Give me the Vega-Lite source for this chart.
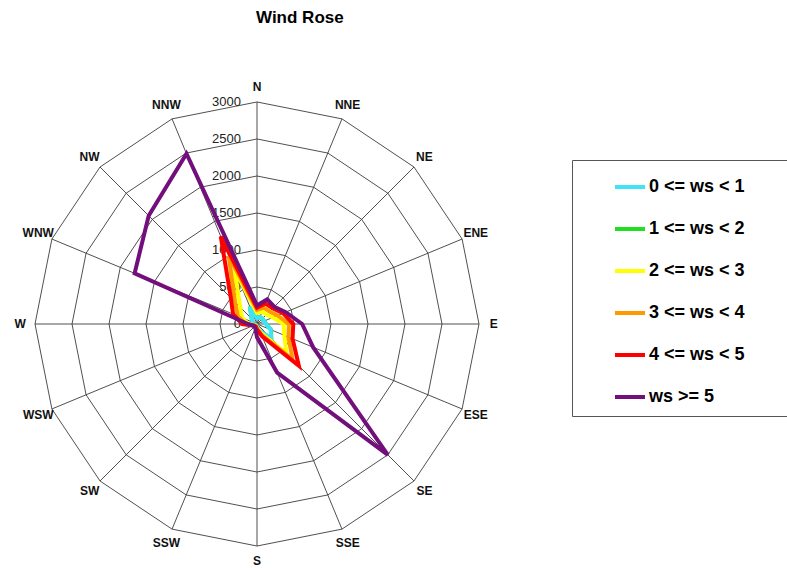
{
  "$schema": "https://vega.github.io/schema/vega-lite/v6.json",
  "width": 787,
  "height": 568,
  "autosize": "none",
  "padding": 0,
  "background": "white",
  "config": {"view": {"stroke": null}},
  "title": {"text": "Wind Rose", "anchor": "start", "frame": "group", "dx": 256, "offset": 0, "dy": 40, "baseline": "alphabetic", "fontSize": 17, "font": "Liberation Sans", "fontWeight": "bold", "color": "#000000"},
  "datasets": {
    "dirs": [
      {"dir": "N", "k": 0}, {"dir": "NNE", "k": 1}, {"dir": "NE", "k": 2}, {"dir": "ENE", "k": 3},
      {"dir": "E", "k": 4}, {"dir": "ESE", "k": 5}, {"dir": "SE", "k": 6}, {"dir": "SSE", "k": 7},
      {"dir": "S", "k": 8}, {"dir": "SSW", "k": 9}, {"dir": "SW", "k": 10}, {"dir": "WSW", "k": 11},
      {"dir": "W", "k": 12}, {"dir": "WNW", "k": 13}, {"dir": "NW", "k": 14}, {"dir": "NNW", "k": 15}
    ],
    "rings": [
      {"ring": 500, "k": [0,1,2,3,4,5,6,7,8,9,10,11,12,13,14,15]},
      {"ring": 1000, "k": [0,1,2,3,4,5,6,7,8,9,10,11,12,13,14,15]},
      {"ring": 1500, "k": [0,1,2,3,4,5,6,7,8,9,10,11,12,13,14,15]},
      {"ring": 2000, "k": [0,1,2,3,4,5,6,7,8,9,10,11,12,13,14,15]},
      {"ring": 2500, "k": [0,1,2,3,4,5,6,7,8,9,10,11,12,13,14,15]},
      {"ring": 3000, "k": [0,1,2,3,4,5,6,7,8,9,10,11,12,13,14,15]}
    ],
    "ticks": [{"t": 0}, {"t": 500}, {"t": 1000}, {"t": 1500}, {"t": 2000}, {"t": 2500}, {"t": 3000}],
    "wind": [
      {"dir": "N", "k": 0, "0 <= ws < 1": 80, "1 <= ws < 2": 84, "2 <= ws < 3": 150, "3 <= ws < 4": 190, "4 <= ws < 5": 220, "ws >= 5": 250},
      {"dir": "NNE", "k": 1, "0 <= ws < 1": 100, "1 <= ws < 2": 104, "2 <= ws < 3": 180, "3 <= ws < 4": 240, "4 <= ws < 5": 300, "ws >= 5": 360},
      {"dir": "NE", "k": 2, "0 <= ws < 1": 100, "1 <= ws < 2": 104, "2 <= ws < 3": 180, "3 <= ws < 4": 240, "4 <= ws < 5": 300, "ws >= 5": 330},
      {"dir": "ENE", "k": 3, "0 <= ws < 1": 100, "1 <= ws < 2": 104, "2 <= ws < 3": 230, "3 <= ws < 4": 300, "4 <= ws < 5": 380, "ws >= 5": 420},
      {"dir": "E", "k": 4, "0 <= ws < 1": 120, "1 <= ws < 2": 124, "2 <= ws < 3": 360, "3 <= ws < 4": 430, "4 <= ws < 5": 490, "ws >= 5": 610},
      {"dir": "ESE", "k": 5, "0 <= ws < 1": 200, "1 <= ws < 2": 204, "2 <= ws < 3": 400, "3 <= ws < 4": 460, "4 <= ws < 5": 520, "ws >= 5": 820},
      {"dir": "SE", "k": 6, "0 <= ws < 1": 270, "1 <= ws < 2": 274, "2 <= ws < 3": 560, "3 <= ws < 4": 680, "4 <= ws < 5": 800, "ws >= 5": 2500},
      {"dir": "SSE", "k": 7, "0 <= ws < 1": 100, "1 <= ws < 2": 104, "2 <= ws < 3": 130, "3 <= ws < 4": 160, "4 <= ws < 5": 180, "ws >= 5": 710},
      {"dir": "S", "k": 8, "0 <= ws < 1": 40, "1 <= ws < 2": 42, "2 <= ws < 3": 55, "3 <= ws < 4": 65, "4 <= ws < 5": 75, "ws >= 5": 180},
      {"dir": "SSW", "k": 9, "0 <= ws < 1": 20, "1 <= ws < 2": 22, "2 <= ws < 3": 30, "3 <= ws < 4": 35, "4 <= ws < 5": 40, "ws >= 5": 60},
      {"dir": "SW", "k": 10, "0 <= ws < 1": 20, "1 <= ws < 2": 22, "2 <= ws < 3": 30, "3 <= ws < 4": 35, "4 <= ws < 5": 40, "ws >= 5": 50},
      {"dir": "WSW", "k": 11, "0 <= ws < 1": 20, "1 <= ws < 2": 22, "2 <= ws < 3": 40, "3 <= ws < 4": 45, "4 <= ws < 5": 50, "ws >= 5": 60},
      {"dir": "W", "k": 12, "0 <= ws < 1": 40, "1 <= ws < 2": 42, "2 <= ws < 3": 120, "3 <= ws < 4": 160, "4 <= ws < 5": 200, "ws >= 5": 120},
      {"dir": "WNW", "k": 13, "0 <= ws < 1": 60, "1 <= ws < 2": 63, "2 <= ws < 3": 220, "3 <= ws < 4": 280, "4 <= ws < 5": 350, "ws >= 5": 1790},
      {"dir": "NW", "k": 14, "0 <= ws < 1": 100, "1 <= ws < 2": 104, "2 <= ws < 3": 320, "3 <= ws < 4": 420, "4 <= ws < 5": 500, "ws >= 5": 2070},
      {"dir": "NNW", "k": 15, "0 <= ws < 1": 250, "1 <= ws < 2": 255, "2 <= ws < 3": 800, "3 <= ws < 4": 1000, "4 <= ws < 5": 1280, "ws >= 5": 2490}
    ]
  },
  "layer": [
    {
      "data": {"name": "rings"},
      "transform": [
        {"flatten": ["k"]},
        {"calculate": "datum.ring * sin(datum.k * PI / 8)", "as": "px"},
        {"calculate": "datum.ring * cos(datum.k * PI / 8)", "as": "py"}
      ],
      "mark": {"type": "line", "interpolate": "linear-closed", "stroke": "#3c3c3c", "strokeWidth": 0.9},
      "encoding": {
        "x": {"field": "px", "type": "quantitative", "scale": {"domain": [-3473, 7162], "nice": false, "zero": false}, "axis": null},
        "y": {"field": "py", "type": "quantitative", "scale": {"domain": [-3297, 4378], "nice": false, "zero": false}, "axis": null},
        "detail": {"field": "ring", "type": "nominal"},
        "order": {"field": "k", "type": "quantitative"}
      }
    },
    {
      "data": {"name": "dirs"},
      "transform": [
        {"calculate": "3000 * sin(datum.k * PI / 8)", "as": "px"},
        {"calculate": "3000 * cos(datum.k * PI / 8)", "as": "py"}
      ],
      "mark": {"type": "rule", "stroke": "#3c3c3c", "strokeWidth": 0.9},
      "encoding": {
        "x": {"field": "px", "type": "quantitative"},
        "y": {"field": "py", "type": "quantitative"},
        "x2": {"datum": 0},
        "y2": {"datum": 0}
      }
    },
    {
      "data": {"name": "dirs"},
      "transform": [
        {"calculate": "3200 * sin(datum.k * PI / 8)", "as": "px"},
        {"calculate": "3200 * cos(datum.k * PI / 8)", "as": "py"}
      ],
      "mark": {"type": "text", "font": "Liberation Sans", "fontWeight": "bold", "fontSize": 12, "align": "center", "baseline": "middle", "color": "#111111"},
      "encoding": {
        "x": {"field": "px", "type": "quantitative"},
        "y": {"field": "py", "type": "quantitative"},
        "text": {"field": "dir", "type": "nominal"}
      }
    },
    {
      "data": {"name": "ticks"},
      "transform": [
        {"calculate": "0", "as": "px"}
      ],
      "mark": {"type": "text", "font": "Liberation Sans", "fontSize": 13, "align": "right", "baseline": "middle", "dx": -16, "color": "#222222"},
      "encoding": {
        "x": {"field": "px", "type": "quantitative"},
        "y": {"field": "t", "type": "quantitative"},
        "text": {"field": "t", "type": "quantitative"}
      }
    },
    {
      "data": {"name": "wind"},
      "transform": [
        {"fold": ["1 <= ws < 2", "0 <= ws < 1", "2 <= ws < 3", "3 <= ws < 4", "4 <= ws < 5", "ws >= 5"], "as": ["series", "value"]},
        {"calculate": "datum.value * sin(datum.k * PI / 8)", "as": "px"},
        {"calculate": "datum.value * cos(datum.k * PI / 8)", "as": "py"}
      ],
      "mark": {"type": "line", "interpolate": "linear-closed", "strokeWidth": 4, "strokeJoin": "miter"},
      "encoding": {
        "x": {"field": "px", "type": "quantitative"},
        "y": {"field": "py", "type": "quantitative"},
        "order": {"field": "k", "type": "quantitative"},
        "color": {
          "field": "series", "type": "nominal",
          "scale": {
            "domain": ["0 <= ws < 1", "1 <= ws < 2", "2 <= ws < 3", "3 <= ws < 4", "4 <= ws < 5", "ws >= 5"],
            "range": ["#40e4f8", "#1fe01f", "#ffff00", "#ff9900", "#ff0000", "#730f7c"]
          },
          "legend": {
            "title": null,
            "orient": "none",
            "legendX": 572,
            "legendY": 160,
            "padding": 10,
            "strokeColor": "#555555",
            "fillColor": "#ffffff",
            "symbolType": "stroke",
            "symbolSize": 900,
            "symbolStrokeWidth": 4,
            "symbolOffset": 31,
            "labelFont": "Liberation Sans",
            "labelFontSize": 18,
            "labelFontWeight": "bold",
            "labelColor": "#000000",
            "labelOffset": 2,
            "labelLimit": 400,
            "rowPadding": 16,
            "labelExpr": "datum.label + '\u00a0\u00a0\u00a0\u00a0\u00a0\u00a0\u00a0\u2800\u2800'"
          }
        }
      }
    }
  ]
}
